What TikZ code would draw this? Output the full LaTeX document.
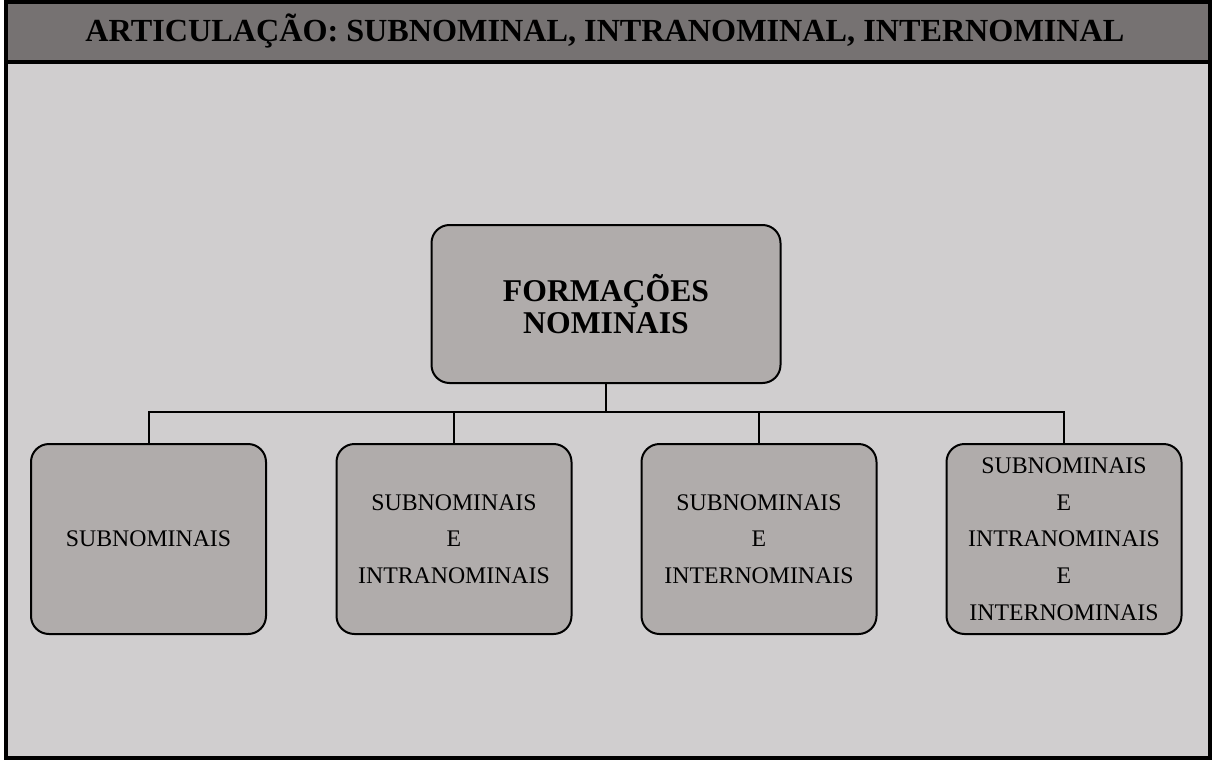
\documentclass[tikz,border=0pt]{standalone}
\usepackage{fontspec}
\setmainfont{Liberation Serif}

\definecolor{headgray}{HTML}{767272}
\definecolor{bodygray}{HTML}{D0CECF}
\definecolor{boxgray}{HTML}{B0ACAB}

\begin{document}
\begin{tikzpicture}
[
    x=1pt, y=-1pt,
    topbox/.style={draw, line width=2pt, rounded corners=18pt, fill=boxgray,
        minimum width=349pt, minimum height=158pt, align=center,
        font=\fontsize{31.7}{32.5}\selectfont\bfseries},
    kindbox/.style={draw, line width=2pt, rounded corners=18pt, fill=boxgray,
        minimum width=235pt, minimum height=190pt, align=center,
        font=\fontsize{23.8}{36.7}\selectfont},
    link/.style={line width=2pt},
]
\useasboundingbox (0,0) rectangle (1212,760);
% frame and title band
\fill[bodygray] (6,62) rectangle (1210,758);
\fill[headgray] (6,2) rectangle (1210,62);
\draw[line width=4pt] (6,2) rectangle (1210,758);
\draw[line width=4pt] (6,62) -- (1210,62);
\node (title) at (605,31) {\fontsize{32.2}{36}\selectfont\bfseries ARTICULAÇÃO: SUBNOMINAL, INTRANOMINAL, INTERNOMINAL};

\node[topbox] (root) at (606,304) {FORMAÇÕES\\NOMINAIS};

\node[kindbox] (sub) at (148.5,539) {SUBNOMINAIS};
\node[kindbox] (subintra) at (454,539) {SUBNOMINAIS\\E\\INTRANOMINAIS};
\node[kindbox] (subinter) at (759,539) {SUBNOMINAIS\\E\\INTERNOMINAIS};
\node[kindbox] (all) at (1064,539) {SUBNOMINAIS\\E\\INTRANOMINAIS\\E\\INTERNOMINAIS};

% fork
\coordinate (fork) at (606,412);
\draw[link] (root.south) -- (fork);
\draw[link] (fork) -| (sub.north);
\draw[link] (fork) -| (all.north);
\draw[link] (subintra.north) |- (fork);
\draw[link] (subinter.north) |- (fork);
\end{tikzpicture}
\end{document}
